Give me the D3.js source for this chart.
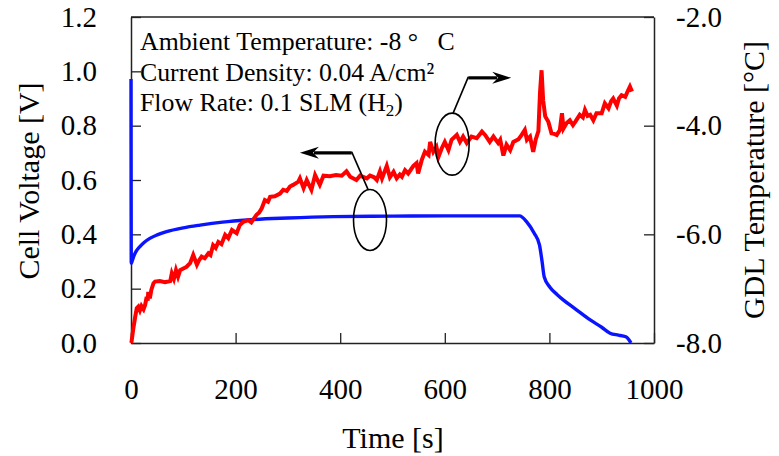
<!DOCTYPE html>
<html>
<head>
<meta charset="utf-8">
<script src="https://cdn.jsdelivr.net/npm/d3@7/dist/d3.min.js"></script>
<style>
  html, body { margin: 0; padding: 0; background: #fff; }
  svg { display: block; }
  svg text { font-family: "Liberation Serif", "DejaVu Serif", serif !important; fill: #000; }
</style>
</head>
<body>
<svg id="chart" width="779" height="456" style="font-family: 'Liberation Serif', 'DejaVu Serif', serif"></svg>
<script>
// ---- data ----
const voltageTime = [0, 0.5, 2, 5, 10, 17, 25, 36, 50, 68, 100, 132, 175, 222, 300, 387, 500, 600, 700, 743, 757, 771, 781, 786, 790, 801, 815, 827, 850, 878, 900, 916, 932, 942, 948, 952, 956];
const voltageValues = [0.972, 0.293, 0.300, 0.318, 0.338, 0.355, 0.370, 0.385, 0.398, 0.410, 0.424, 0.434, 0.445, 0.453, 0.460, 0.465, 0.467, 0.468, 0.468, 0.468, 0.445, 0.404, 0.361, 0.300, 0.244, 0.205, 0.178, 0.158, 0.125, 0.085, 0.058, 0.036, 0.029, 0.025, 0.021, 0.012, 0.0];

const tempTime = [0, 1, 4, 8, 11, 14, 17, 20, 24, 27, 30, 32, 33, 36, 39, 43, 46, 55, 65, 75, 78, 82, 86, 90, 94, 100, 106, 113, 119, 126, 130, 135, 141, 148, 152, 157, 162, 167, 173, 180, 186, 193, 202, 208, 215, 224, 230, 240, 245, 250, 256, 262, 266, 275, 285, 291, 298, 304, 310, 320, 323, 330, 336, 345, 352, 361, 368, 380, 392, 403, 412, 419, 431, 438, 451, 457, 465, 470, 476, 480, 489, 495, 502, 508, 514, 518, 524, 530, 540, 546, 549, 556, 562, 569, 572, 578, 584, 588, 594, 600, 607, 613, 623, 629, 635, 642, 651, 661, 671, 677, 686, 693, 702, 706, 712, 718, 725, 731, 741, 747, 753, 757, 763, 769, 774, 779, 782, 785, 788, 792, 798, 804, 809, 814, 820, 824, 827, 833, 839, 845, 850, 858, 864, 868, 873, 878, 884, 890, 900, 906, 913, 918, 922, 929, 933, 938, 945, 951, 954, 958];
const tempValues = [-8.00, -7.98, -7.76, -7.52, -7.36, -7.33, -7.40, -7.32, -7.38, -7.30, -7.15, -7.22, -7.06, -7.18, -7.02, -6.90, -6.87, -6.86, -6.88, -6.86, -6.72, -6.82, -6.66, -6.78, -6.66, -6.63, -6.60, -6.53, -6.38, -6.56, -6.48, -6.41, -6.44, -6.35, -6.38, -6.20, -6.25, -6.14, -6.18, -6.01, -6.07, -5.92, -5.98, -5.83, -5.77, -5.74, -5.78, -5.64, -5.60, -5.52, -5.37, -5.40, -5.31, -5.30, -5.25, -5.18, -5.20, -5.12, -5.09, -5.03, -4.97, -5.15, -5.00, -5.18, -4.91, -5.09, -4.92, -4.93, -4.91, -4.92, -4.84, -4.94, -5.00, -4.92, -4.97, -4.92, -4.95, -5.00, -4.84, -4.97, -4.74, -4.95, -4.85, -4.97, -4.90, -4.94, -4.82, -4.88, -4.74, -4.69, -4.88, -4.63, -4.48, -4.54, -4.30, -4.48, -4.39, -4.57, -4.42, -4.30, -4.45, -4.26, -4.17, -4.30, -4.20, -4.32, -4.20, -4.23, -4.11, -4.17, -4.30, -4.20, -4.32, -4.26, -4.55, -4.35, -4.45, -4.30, -4.25, -4.17, -4.08, -4.26, -4.20, -4.48, -4.25, -4.10, -3.40, -2.98, -3.53, -3.83, -3.93, -4.14, -4.15, -4.17, -4.08, -3.77, -4.05, -3.95, -3.90, -3.99, -3.92, -3.80, -3.85, -3.71, -3.82, -3.80, -3.90, -3.77, -3.77, -3.59, -3.68, -3.55, -3.50, -3.63, -3.50, -3.44, -3.47, -3.34, -3.28, -3.37];

const xTicks = [0, 200, 400, 600, 800, 1000];
const leftTicks = [0.0, 0.2, 0.4, 0.6, 0.8, 1.0, 1.2];
const rightTicks = [-8.0, -6.0, -4.0, -2.0];

const annotationLines = ["Ambient Temperature: -8 °\u00a0\u00a0\u00a0C", "Current Density: 0.04 A/cm²", "Flow Rate: 0.1 SLM (H"];

// annotation anchors in data units
const leftEllipse = {t: 457, v: 0.453};
const leftArrowBend = {t: 422, v: 0.70};
const leftArrowTip = {t: 323, v: 0.70};
const rightEllipse = {t: 614, T: -4.34};
const rightArrowBend = {t: 645, T: -3.12};
const rightArrowTip = {t: 727, T: -3.12};

// ---- layout ----
const FONT = "'Liberation Serif', 'DejaVu Serif', serif";
const svg = d3.select("#chart");
const L = 131, R = 654, T = 17, B = 343;
const x = d3.scaleLinear().domain([0, 1000]).range([L, R]);
const yL = d3.scaleLinear().domain([0, 1.2]).range([B, T]);
const yR = d3.scaleLinear().domain([-8, -2]).range([B, T]);

const axisColor = "#222";

function styleAxis(g) {
  g.attr("font-family", null);
  g.select(".domain").attr("stroke", axisColor).attr("stroke-width", 1.5);
  g.selectAll(".tick line").attr("stroke", axisColor).attr("stroke-width", 1.3);
  g.selectAll(".tick text").attr("font-size", 29).style("font-family", FONT).attr("fill", "#000");
}

// frame top
svg.append("line").attr("x1", L).attr("x2", R).attr("y1", T).attr("y2", T)
  .attr("stroke", axisColor).attr("stroke-width", 1.5);

// bottom axis
const gx = svg.append("g").attr("transform", `translate(0,${B})`)
  .call(d3.axisBottom(x).tickValues(xTicks).tickSizeInner(-10).tickSizeOuter(0).tickPadding(35).tickFormat(d => String(d)));
styleAxis(gx);

// left axis
const gl = svg.append("g").attr("transform", `translate(${L},0)`)
  .call(d3.axisLeft(yL).tickValues(leftTicks).tickSizeInner(-10).tickSizeOuter(0).tickPadding(34).tickFormat(d3.format(".1f")));
styleAxis(gl);

// right axis
const gr = svg.append("g").attr("transform", `translate(${R},0)`)
  .call(d3.axisRight(yR).tickValues(rightTicks).tickSizeInner(-10).tickSizeOuter(0).tickPadding(22).tickFormat(d => d.toFixed(1)));
styleAxis(gr);

// axis titles
svg.append("text").attr("x", 393).attr("y", 448).attr("text-anchor", "middle")
  .attr("font-size", 30).style("font-family", FONT).text("Time [s]");
svg.append("text").attr("transform", "translate(39,181) rotate(-90)").attr("text-anchor", "middle")
  .attr("font-size", 30).style("font-family", FONT).text("Cell Voltage [V]");
svg.append("text").attr("transform", "translate(764,180) rotate(-90)").attr("text-anchor", "middle")
  .attr("font-size", 30).style("font-family", FONT).text("GDL Temperature [°C]");

// ---- data lines ----
const voltData = voltageTime.map((t, i) => ({t, v: voltageValues[i]}));
const tempData = tempTime.map((t, i) => ({t, T: tempValues[i]}));

svg.append("path").datum(voltData)
  .attr("fill", "none").attr("stroke", "#0a14ff").attr("stroke-width", 3.4)
  .attr("stroke-linejoin", "round")
  .attr("d", d3.line().x(d => x(d.t)).y(d => yL(d.v)).curve(d3.curveMonotoneX));

svg.append("path").datum(tempData)
  .attr("fill", "none").attr("stroke", "#ff0000").attr("stroke-width", 4)
  .attr("stroke-linejoin", "miter")
  .attr("d", d3.line().x(d => x(d.t)).y(d => yR(d.T)));

// ---- annotation text ----
const ann = svg.append("g");
annotationLines.forEach((s, i) => {
  const tx = ann.append("text").attr("x", 140).attr("y", 50 + i * 30.5).attr("font-size", 25.8).style("font-family", FONT);
  tx.append("tspan").text(s);
  if (i === 2) {
    tx.append("tspan").attr("font-size", 17).attr("dy", 5).text("2");
    tx.append("tspan").attr("dy", -5).text(")");
  }
});

// ---- ellipses and arrows ----
function arrow(tip, bend, ellTop, dir) {
  svg.append("line").attr("x1", bend[0]).attr("y1", bend[1])
    .attr("x2", tip[0] - dir * 14).attr("y2", tip[1])
    .attr("stroke", "#000").attr("stroke-width", 3.2);
  svg.append("path")
    .attr("d", `M${tip[0]},${tip[1]} L${tip[0] - dir * 19},${tip[1] - 6} L${tip[0] - dir * 13},${tip[1]} L${tip[0] - dir * 19},${tip[1] + 6} Z`)
    .attr("fill", "#000");
  svg.append("line").attr("x1", bend[0]).attr("y1", bend[1] - 1)
    .attr("x2", ellTop[0]).attr("y2", ellTop[1])
    .attr("stroke", "#000").attr("stroke-width", 1.6);
}

const lcx = x(leftEllipse.t), lcy = yL(leftEllipse.v);
svg.append("ellipse").attr("cx", lcx).attr("cy", lcy).attr("rx", 16.5).attr("ry", 30.5)
  .attr("fill", "none").attr("stroke", "#000").attr("stroke-width", 1.6);
arrow([x(leftArrowTip.t), yL(leftArrowTip.v)], [x(leftArrowBend.t), yL(leftArrowBend.v)], [lcx - 2, lcy - 30.5], -1);

const rcx = x(rightEllipse.t), rcy = yR(rightEllipse.T);
svg.append("ellipse").attr("cx", rcx).attr("cy", rcy).attr("rx", 17).attr("ry", 31)
  .attr("fill", "none").attr("stroke", "#000").attr("stroke-width", 1.6);
arrow([x(rightArrowTip.t), yR(rightArrowTip.T)], [x(rightArrowBend.t), yR(rightArrowBend.T)], [rcx + 1, rcy - 31], 1);
</script>
</body>
</html>
